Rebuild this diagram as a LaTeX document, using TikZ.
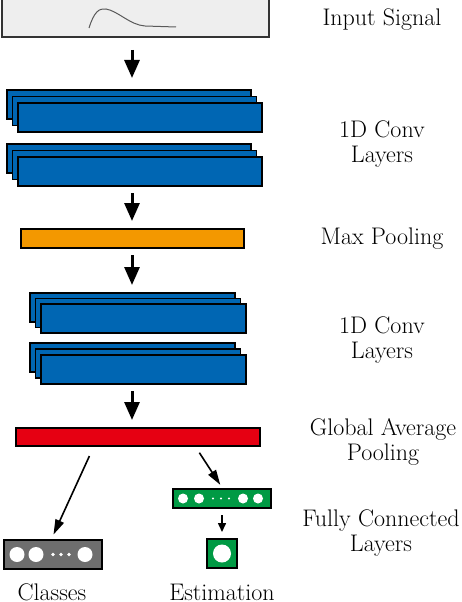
\documentclass[tikz,border=0pt]{standalone}
\usetikzlibrary{arrows.meta}

\definecolor{sigbg}{HTML}{EEEEEE}
\definecolor{convblue}{HTML}{0066B3}
\definecolor{poolorange}{HTML}{F39800}
\definecolor{gapred}{HTML}{E60012}
\definecolor{fcgreen}{HTML}{009A44}
\definecolor{clsgray}{HTML}{6E6E6E}

\begin{document}
\begin{tikzpicture}[x=1pt, y=-1pt,
    box/.style={draw=black, line width=1.2pt, inner sep=0pt, outer sep=0pt,
        anchor=north west, minimum height=29pt},
    convbox/.style={box, fill=convblue},
    flow/.style={-{Triangle[width=15pt,length=18pt]}, line width=3pt,
        shorten <=7pt, shorten >=8pt},
    branch/.style={-{Triangle[width=9pt,length=15pt]}, line width=1.6pt},
    lbl/.style={font=\fontsize{24}{25}\selectfont, align=center}]

    % Page frame (the input box runs off the top edge)
    \clip (0,0) rectangle (462,602);

    % Input signal
    \node[box, draw=black!80, fill=sigbg, minimum width=267pt, minimum height=43pt]
        (in) at (2,-6) {};
    \draw[black!65, line width=1pt] (89,28) .. controls (94,12) and (99,8) .. (106,9)
        .. controls (118,11) and (130,25) .. (145,26) -- (176,27);

    % Stacks of 1D conv feature maps
    \foreach \s/\x/\y/\w/\dy in {1/7/90/244/6.5, 2/7/144/244/6.5,
                                 3/30/293/205/5.5, 4/30/343/205/6} {
        \foreach \n/\k in {a/0, b/1, c/2} {
            \node[convbox, minimum width=\w pt] (c\s\n)
                at ({\x+5.5*\k}, {\y+\dy*\k}) {};
        }
    }

    % Pooling layers
    \node[box, fill=poolorange, minimum width=223pt, minimum height=19pt] (pool) at (21,229) {};
    \node[box, fill=gapred, minimum width=244pt, minimum height=18pt] (gap) at (16,428) {};

    % Fully connected heads
    \node[box, fill=fcgreen, minimum width=98pt, minimum height=19pt] (fc) at (173,489) {};
    \node[box, fill=fcgreen, minimum width=30pt] (out) at (207,539) {};
    \node[box, fill=clsgray, minimum width=98pt] (cls) at (4,540) {};

    \foreach \cx in {183,199,243,258} \fill[white] (\cx,498.5) circle (5pt);
    \foreach \cx in {213,221,229} \fill[white] (\cx,498.5) circle (1.2pt);
    \fill[white] (out.center) circle (9pt);
    \foreach \cx in {17,36,85} \fill[white] (\cx,554.5) circle (7.5pt);
    \foreach \cx in {53,61,69} \fill[white] (\cx,554.5) circle (1.8pt);

    % Main flow arrows
    \coordinate (axis) at (132,0);
    \draw[flow, shorten <=13pt, shorten >=12pt] (axis |- in.south) -- (axis |- c1a.north);
    \draw[flow] (axis |- c2c.south) -- (axis |- pool.north);
    \draw[flow] (axis |- pool.south) -- (axis |- c3a.north);
    \draw[flow] (axis |- c4c.south) -- (axis |- gap.north);

    % Branch arrows
    \draw[branch, shorten <=11pt, shorten >=6pt] (gap.south -| 94,0) -- (cls.north -| 51,0);
    \draw[branch, shorten <=8pt, shorten >=5pt] (gap.south -| 195,0) -- (fc.north -| 223,0);
    \draw[-{Triangle[width=8pt,length=9pt]}, line width=1.5pt, shorten <=7pt, shorten >=7pt]
        (fc.south) -- (out.north);

    % Labels
    \node[lbl] (lblin)    at (382,20)  {Input Signal};
    \node[lbl] (lblconv1) at (382,144) {1D Conv\\Layers};
    \node[lbl] (lblpool)  at (382,239) {Max Pooling};
    \node[lbl] (lblconv2) at (382,340) {1D Conv\\Layers};
    \node[lbl] (lblgap)   at (383,442) {Global Average\\Pooling};
    \node[lbl] (lblfc)    at (381,533) {Fully Connected\\Layers};
    \node[lbl, anchor=base] (lblcls) at (52,600)  {Classes};
    \node[lbl, anchor=base] (lblest) at (222,600) {Estimation};
\end{tikzpicture}
\end{document}
